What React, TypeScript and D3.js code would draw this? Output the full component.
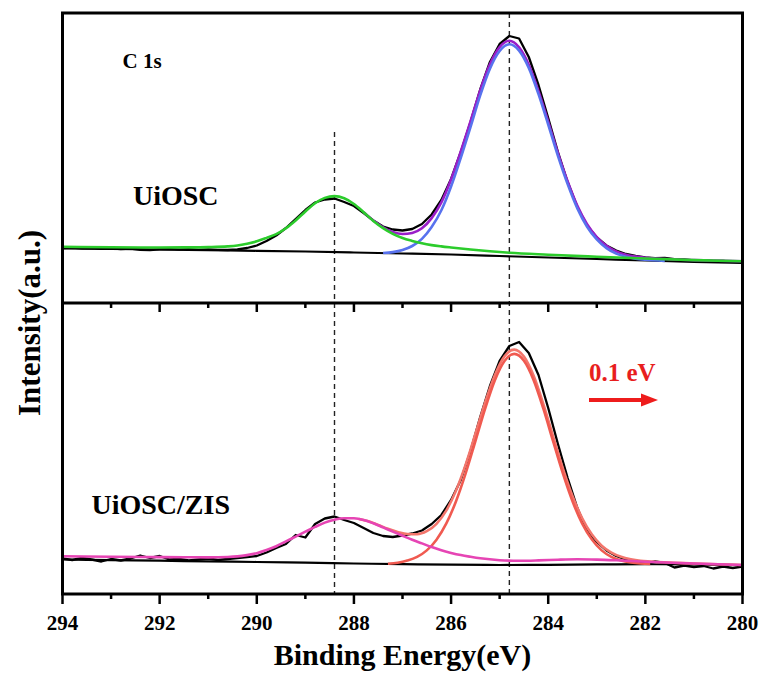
import * as d3 from "d3";

// binding energy ticks (eV)
const majorTicks = [294, 292, 290, 288, 286, 284, 282, 280];
const minorTicks = [293, 291, 289, 287, 285, 283, 281];
// dashed reference positions (eV)
const refTop = 288.4;
const refMain = 284.8;

// raw spectra, sampled every 0.2 eV
const rawEnergy = [
  294.0, 293.8, 293.6, 293.4, 293.2, 293.0, 292.8, 292.6, 292.4, 292.2,
  292.0, 291.8, 291.6, 291.4, 291.2, 291.0, 290.8, 290.6, 290.4, 290.2,
  290.0, 289.8, 289.6, 289.4, 289.2, 289.0, 288.8, 288.6, 288.4, 288.2,
  288.0, 287.8, 287.6, 287.4, 287.2, 287.0, 286.8, 286.6, 286.4, 286.2,
  286.0, 285.8, 285.6, 285.4, 285.2, 285.0, 284.8, 284.6, 284.4, 284.2,
  284.0, 283.8, 283.6, 283.4, 283.2, 283.0, 282.8, 282.6, 282.4, 282.2,
  282.0, 281.8, 281.6, 281.4, 281.2, 281.0, 280.8, 280.6, 280.4, 280.2,
  280.0,
];
const uiOscRaw = [
  54.8, 55.3, 54.6, 54.9, 54.2, 54.6, 54.0, 54.4, 53.2, 52.8,
  53.6, 53.9, 53.4, 53.8, 53.1, 53.5, 53.2, 53.0, 53.6, 55.0,
  57.5, 62.0, 67.5, 75.0, 84.0, 93.0, 100.5, 103.5, 104.5, 101.0,
  97.0, 90.0, 82.5, 76.5, 73.5, 72.5, 74.0, 79.0, 88.5, 103.0,
  124.0, 151.0, 181.0, 213.5, 241.0, 259.0, 267.0, 264.5, 246.0, 218.0,
  185.0, 151.0, 121.0, 96.0, 77.5, 65.5, 57.5, 52.5, 49.0, 47.0,
  45.5, 44.8, 45.0, 43.8, 43.5, 42.6, 42.9, 41.8, 42.0, 41.2,
  41.0,
];
const zisRaw = [
  35.5, 34.0, 36.0, 34.5, 32.5, 35.0, 33.5, 35.5, 38.5, 36.0,
  38.0, 34.5, 35.0, 33.5, 34.5, 35.5, 34.0, 35.0, 36.0, 37.0,
  38.0, 41.5, 46.0, 50.0, 59.0, 56.5, 70.0, 75.5, 77.5, 74.0,
  71.0, 66.0, 61.0, 58.0, 57.0, 58.5, 60.5, 63.5, 70.0, 79.0,
  94.0, 114.0, 143.0, 177.0, 208.0, 233.0, 248.0, 252.0, 241.0, 219.0,
  186.0, 150.0, 116.0, 86.0, 63.0, 52.0, 43.5, 38.0, 34.5, 33.0,
  30.5, 32.5, 31.0, 26.5, 28.5, 27.0, 28.0, 25.5, 27.5, 26.0,
  27.5,
];

// UiOSC fit: [eV, intensity]
const uiOscBackground: [number, number][] = [
  [294, 54.7], [293, 54.1], [292, 53.5], [291, 52.9], [290, 52.2], [289, 51.5], [288, 50.5],
  [287, 49.5], [286, 48.5], [285, 47.0], [284, 45.5], [283, 44.0], [282, 42.5], [281, 41.2], [280, 40.2],
];
const uiOscOCO: [number, number][] = [
  [294, 56.2], [293, 55.7], [292, 55.5], [291.5, 55.6], [291, 55.9], [290.6, 56.6], [290.4, 57.5],
  [290.2, 59.3], [290.0, 61.7], [289.8, 65.1], [289.6, 68.9], [289.4, 74.8], [289.2, 82.6],
  [289.0, 91.5], [288.8, 99.8], [288.6, 105.1], [288.4, 106.9], [288.2, 104.7], [288.0, 99.0],
  [287.8, 90.8], [287.6, 82.1], [287.4, 74.9], [287.2, 69.2], [287.0, 65.0], [286.8, 62.1],
  [286.6, 59.7], [286.4, 57.9], [286.2, 56.6], [286.0, 55.5], [285.6, 53.5], [285.2, 51.7],
  [284.8, 50.2], [284.0, 48.3], [283, 46.3], [282, 44.5], [281, 42.9], [280, 41.7],
];
const uiOscCC: [number, number][] = [
  [287.4, 50.0], [287.2, 50.9], [287.0, 53.0], [286.8, 57.0], [286.6, 64.1],
  [286.4, 75.9], [286.2, 92.7], [286.0, 116.5], [285.8, 145.2], [285.6, 175.9], [285.4, 207.6],
  [285.2, 234.3], [285.0, 252.0], [284.8, 258.7], [284.6, 252.4], [284.4, 235.1], [284.2, 208.8],
  [284.0, 178.5], [283.8, 147.2], [283.6, 118.9], [283.4, 94.6], [283.2, 76.3], [283.0, 63.6],
  [282.8, 54.9], [282.6, 49.4], [282.4, 46.2], [282.2, 44.3], [282.0, 43.2], [281.6, 42.1],
];
const uiOscEnvelope: [number, number][] = [
  [287.8, 90.9], [287.6, 82.4], [287.4, 75.7], [287.2, 71.0], [287.0, 69.0], [286.8, 70.1],
  [286.6, 74.7], [286.4, 84.9], [286.2, 100.6], [286.0, 123.5], [285.8, 151.5], [285.6, 181.5],
  [285.4, 212.7], [285.2, 238.7], [285.0, 255.9], [284.8, 262.2], [284.6, 255.7], [284.4, 238.2],
  [284.2, 211.8], [284.0, 181.3], [283.8, 149.9], [283.6, 121.5], [283.4, 97.1], [283.2, 78.7],
  [283.0, 65.9], [282.8, 57.2], [282.6, 51.6], [282.4, 48.3], [282.2, 46.4], [282.0, 45.2],
  [281.6, 44.0], [281.0, 42.9], [280.0, 41.7],
];

// UiOSC/ZIS fit: [eV, intensity]
const zisBackground: [number, number][] = [
  [294, 34.5], [293, 33.9], [292, 33.3], [291, 32.6], [290, 32.0], [289, 31.3], [288, 30.5],
  [287, 29.8], [286, 29.3], [285, 29.0], [284, 29.2], [283, 29.6], [282, 29.8], [281, 29.5], [280, 29.0],
];
const zisOCO: [number, number][] = [
  [294, 37.8], [293, 37.3], [292, 36.9], [291.5, 36.8], [291, 36.6], [290.6, 37.0], [290.4, 37.6],
  [290.2, 38.9], [290.0, 40.8], [289.8, 43.9], [289.6, 47.7], [289.4, 52.6], [289.2, 57.4],
  [289.0, 62.3], [288.8, 67.1], [288.6, 71.4], [288.4, 74.3], [288.2, 75.8], [288.0, 75.7],
  [287.8, 74.1], [287.6, 70.7], [287.4, 66.6], [287.2, 62.4], [287.0, 58.3], [286.8, 54.2],
  [286.6, 50.6], [286.4, 47.0], [286.2, 43.7], [286.0, 41.1], [285.8, 38.9], [285.6, 37.2],
  [285.4, 35.7], [285.0, 33.8], [284.6, 33.2], [284.2, 33.6], [283.8, 34.3], [283.4, 34.7],
  [283.0, 34.4], [282.6, 33.7], [282.0, 32.3], [281.0, 30.5], [280.0, 29.0],
];
const zisCC: [number, number][] = [
  [287.3, 30.3], [287.1, 31.3], [286.9, 33.5], [286.7, 37.1], [286.5, 43.6],
  [286.3, 54.3], [286.1, 70.3], [285.9, 92.5], [285.7, 120.6], [285.5, 152.7], [285.3, 185.2],
  [285.1, 213.6], [284.9, 233.1], [284.7, 240.1], [284.5, 233.2], [284.3, 213.8], [284.1, 185.3],
  [283.9, 152.8], [283.7, 120.8], [283.5, 92.7], [283.3, 70.4], [283.1, 54.4], [282.9, 43.6],
  [282.7, 37.1], [282.5, 33.4], [282.3, 31.5], [282.1, 30.5], [281.9, 30.1],
];
const zisEnvelope: [number, number][] = [
  [287.9, 75.0], [287.7, 72.7], [287.5, 69.0], [287.3, 65.2], [287.1, 62.1], [286.9, 60.0],
  [286.7, 59.8], [286.5, 62.8], [286.3, 70.2], [286.1, 83.3], [285.9, 103.2], [285.7, 129.4],
  [285.5, 160.0], [285.3, 191.4], [285.1, 218.8], [284.9, 237.7], [284.7, 244.4], [284.5, 237.4],
  [284.3, 218.2], [284.1, 189.9], [283.9, 157.7], [283.7, 125.9], [283.5, 98.0], [283.3, 75.7],
  [283.1, 59.4], [282.9, 48.3], [282.7, 41.4], [282.5, 37.2], [282.3, 34.8], [282.1, 33.3],
  [281.9, 32.5], [281.0, 30.5], [280.0, 29.0],
];

const FONT = "'Liberation Serif', 'Times New Roman', Tinos, serif";

export default function App() {
  const width = 761;
  const height = 684;
  const left = 62.5;
  const right = 742.5;
  const top = 13;
  const mid = 303;
  const bottom = 594;

  const x = d3.scaleLinear().domain([294, 280]).range([left, right]);
  const yTop = d3.scaleLinear().domain([0, 290]).range([mid, top]);
  const yBot = d3.scaleLinear().domain([0, 291]).range([bottom, mid]);

  const smooth = (y: d3.ScaleLinear<number, number>) =>
    d3
      .line<[number, number]>()
      .x((d) => x(d[0]))
      .y((d) => y(d[1]))
      .curve(d3.curveMonotoneX);
  const jagged = (y: d3.ScaleLinear<number, number>) =>
    d3
      .line<[number, number]>()
      .x((d) => x(d[0]))
      .y((d) => y(d[1]));

  const topRawPts = rawEnergy.map((e, i) => [e, uiOscRaw[i]] as [number, number]);
  const botRawPts = rawEnergy.map((e, i) => [e, zisRaw[i]] as [number, number]);

  const fitW = 2.6;

  // arrow for the shift note
  const ax0 = 589;
  const ax1 = 658;
  const ay = 400;

  return (
    <div style={{ position: "absolute", left: 0, top: 0 }}>
      <svg width={width} height={height} style={{ display: "block", background: "#fff" }}>
        {/* dashed reference lines */}
        <line x1={x(refTop)} x2={x(refTop)} y1={132} y2={bottom} stroke="#222" strokeWidth={1.4} strokeDasharray="5,4" />
        <line x1={x(refMain)} x2={x(refMain)} y1={top} y2={bottom} stroke="#222" strokeWidth={1.4} strokeDasharray="5,4" />

        {/* UiOSC panel */}
        <path d={jagged(yTop)(topRawPts) ?? ""} fill="none" stroke="#000" strokeWidth={2.3} strokeLinejoin="round" />
        <path d={smooth(yTop)(uiOscBackground) ?? ""} fill="none" stroke="#000" strokeWidth={2.2} />
        <path d={smooth(yTop)(uiOscEnvelope) ?? ""} fill="none" stroke="#9a1ec8" strokeWidth={fitW} />
        <path d={smooth(yTop)(uiOscCC) ?? ""} fill="none" stroke="#5872ee" strokeWidth={fitW} />
        <path d={smooth(yTop)(uiOscOCO) ?? ""} fill="none" stroke="#2ccc2c" strokeWidth={fitW} />

        {/* UiOSC/ZIS panel */}
        <path d={jagged(yBot)(botRawPts) ?? ""} fill="none" stroke="#000" strokeWidth={2.3} strokeLinejoin="round" />
        <path d={smooth(yBot)(zisBackground) ?? ""} fill="none" stroke="#000" strokeWidth={2.2} />
        <path d={smooth(yBot)(zisEnvelope) ?? ""} fill="none" stroke="#f3766c" strokeWidth={fitW} />
        <path d={smooth(yBot)(zisCC) ?? ""} fill="none" stroke="#f05a50" strokeWidth={fitW} />
        <path d={smooth(yBot)(zisOCO) ?? ""} fill="none" stroke="#e645b4" strokeWidth={fitW} />

        {/* frame */}
        <rect x={left} y={top} width={right - left} height={bottom - top} fill="none" stroke="#000" strokeWidth={3} />
        <line x1={left} x2={right} y1={mid} y2={mid} stroke="#000" strokeWidth={3} />

        {/* ticks */}
        {majorTicks.map((t) => (
          <g key={"M" + t}>
            <line x1={x(t)} x2={x(t)} y1={mid} y2={mid + 9} stroke="#000" strokeWidth={2.5} />
            <line x1={x(t)} x2={x(t)} y1={bottom} y2={bottom + 10} stroke="#000" strokeWidth={2.5} />
            <text x={x(t)} y={630} textAnchor="middle" fontFamily={FONT} fontWeight="bold" fontSize={21}>
              {t}
            </text>
          </g>
        ))}
        {minorTicks.map((t) => (
          <g key={"m" + t}>
            <line x1={x(t)} x2={x(t)} y1={mid} y2={mid + 5} stroke="#000" strokeWidth={2.5} />
            <line x1={x(t)} x2={x(t)} y1={bottom} y2={bottom + 5} stroke="#000" strokeWidth={2.5} />
          </g>
        ))}

        {/* labels */}
        <text x={122.5} y={68} fontFamily={FONT} fontWeight="bold" fontSize={21}>C 1s</text>
        <text x={133} y={205} fontFamily={FONT} fontWeight="bold" fontSize={28}>UiOSC</text>
        <text x={91.5} y={514} fontFamily={FONT} fontWeight="bold" fontSize={28}>UiOSC/ZIS</text>
        <text x={589} y={381} fontFamily={FONT} fontWeight="bold" fontSize={25} fill="#e81e1e">0.1 eV</text>
        <line x1={ax0} x2={ax1 - 14} y1={ay} y2={ay} stroke="#ee1c1c" strokeWidth={4} />
        <path d={`M${ax1},${ay} L${ax1 - 17},${ay - 6.5} L${ax1 - 17},${ay + 6.5} Z`} fill="#ee1c1c" />

        <text x={(left + right) / 2} y={665} textAnchor="middle" fontFamily={FONT} fontWeight="bold" fontSize={30}>
          Binding Energy(eV)
        </text>
        <text
          transform={`translate(40, ${323}) rotate(-90)`}
          textAnchor="middle"
          fontFamily={FONT}
          fontWeight="bold"
          fontSize={31}
        >
          Intensity(a.u.)
        </text>
      </svg>
    </div>
  );
}
